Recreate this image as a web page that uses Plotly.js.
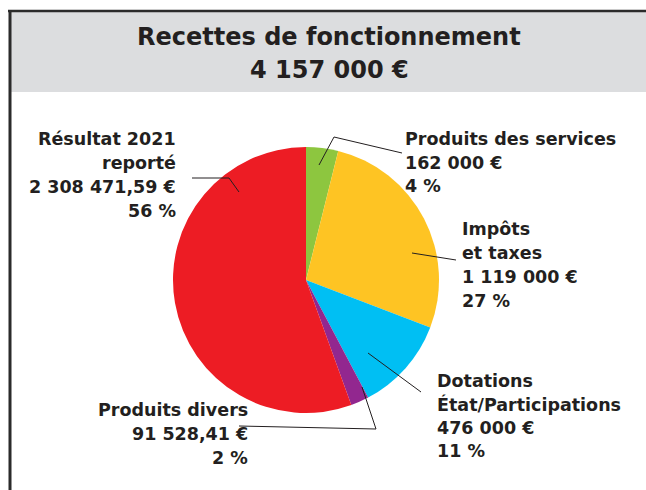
<!DOCTYPE html>
<html>
<head>
<meta charset="utf-8">
<script src="https://cdn.plot.ly/plotly-3.0.1.min.js"></script>
<style>html,body{margin:0;padding:0;background:#fff;}#chart{width:646px;height:490px;}</style>
</head>
<body>
<div id="chart"></div>
<script>
const categories = ["Produits des services", "Impôts et taxes", "Dotations État/Participations", "Produits divers", "Résultat 2021 reporté"];
const values = [162000, 1119000, 476000, 91528.41, 2308471.59];
const amountLabels = ["162 000 €", "1 119 000 €", "476 000 €", "91 528,41 €", "2 308 471,59 €"];
const percentLabels = ["4 %", "27 %", "11 %", "2 %", "56 %"];
const nameLines = [["Produits des services"], ["Impôts", "et taxes"], ["Dotations", "État/Participations"], ["Produits divers"], ["Résultat 2021", "reporté"]];
const titleLines = ["Recettes de fonctionnement", "4 157 000 €"];
const colors = ["#8dc63f", "#fec423", "#00bff3", "#92278f", "#ed1c24"];

const W = 646, H = 490;
const px = x => x / W;
const py = y => 1 - y / H;

const cx = 306, cy = 280, r = 133;

// label anchor x and first baseline y, line step
const labelPos = [
  {x: 403, y: 145.5, step: 23.5, xanchor: "left"},
  {x: 460, y: 235, step: 24, xanchor: "left"},
  {x: 435, y: 387, step: 23.5, xanchor: "left"},
  {x: 250, y: 416, step: 24, xanchor: "right"},
  {x: 178, y: 145.5, step: 24, xanchor: "right"}
];
const leaders = [
  [[319,165],[334,137],[402,153]],
  [[412,253],[456,260]],
  [[368,353],[421,392]],
  [[362,387],[376,429],[239,426]],
  [[239,192],[229,178],[192,178]]
];

const txtColor = "#231f20";
const fontFam = "'DejaVu Sans', sans-serif";
const labelSize = 17.5, titleSize = 24;

const annotations = [];
categories.forEach((c, i) => {
  const lines = nameLines[i].concat([amountLabels[i], percentLabels[i]]);
  const p = labelPos[i];
  lines.forEach((t, k) => {
    annotations.push({
      xref: "paper", yref: "paper",
      x: px(p.x), y: py(p.y + k * p.step - 0.35 * labelSize),
      xanchor: p.xanchor, yanchor: "middle", align: p.xanchor,
      showarrow: false,
      text: "<b>" + t + "</b>",
      font: {family: fontFam, size: labelSize, color: txtColor}
    });
  });
});
const titleBase = [45, 78.5];
titleLines.forEach((t, k) => {
  annotations.push({
    xref: "paper", yref: "paper", x: px(329), y: py(titleBase[k] - 0.35 * titleSize),
    xanchor: "center", yanchor: "middle", align: "center", showarrow: false,
    text: "<b>" + t + "</b>",
    font: {family: fontFam, size: titleSize, color: txtColor}
  });
});

const shapes = [
  {type: "rect", xref: "paper", yref: "paper", x0: px(10), x1: px(646), y0: py(11), y1: py(92), fillcolor: "#dcdddf", line: {width: 0}, layer: "below"},
  {type: "line", xref: "paper", yref: "paper", x0: px(8), x1: px(646), y0: py(11), y1: py(11), line: {color: "#2b2b2b", width: 2.5}},
  {type: "line", xref: "paper", yref: "paper", x0: px(10), x1: px(10), y0: py(10), y1: py(490), line: {color: "#2b2b2b", width: 3}}
];
leaders.forEach(pts => {
  const path = pts.map((p, k) => (k ? "L" : "M") + px(p[0]) + "," + py(p[1])).join(" ");
  shapes.push({type: "path", xref: "paper", yref: "paper", path: path, line: {color: "#231f20", width: 1}});
});

const data = [{
  type: "pie",
  labels: categories,
  values: values,
  sort: false,
  direction: "clockwise",
  rotation: 0,
  textinfo: "none",
  hoverinfo: "label+value+percent",
  marker: {colors: colors, line: {width: 0}},
  domain: {x: [px(cx - r), px(cx + r)], y: [py(cy + r), py(cy - r)]},
  showlegend: false
}];

const layout = {
  width: W, height: H,
  margin: {l: 0, r: 0, t: 0, b: 0},
  paper_bgcolor: "#ffffff",
  showlegend: false,
  annotations: annotations,
  shapes: shapes
};

Plotly.newPlot("chart", data, layout, {displayModeBar: false, staticPlot: true});
</script>
</body>
</html>
